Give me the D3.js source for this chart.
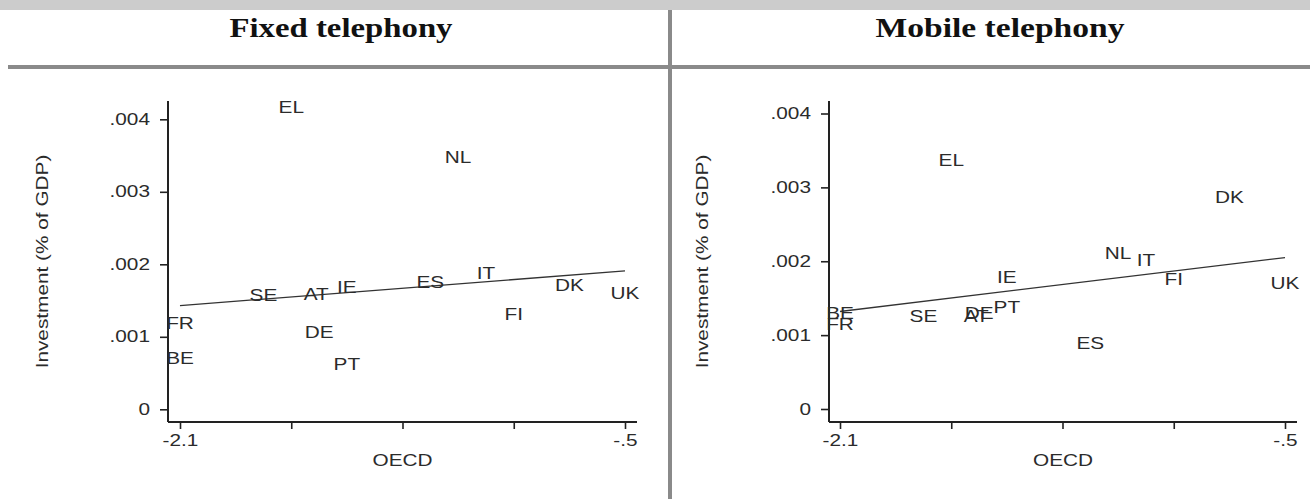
<!DOCTYPE html>
<html>
<head>
	<title>Investment vs OECD indicator</title>
	<script src="https://cdn.jsdelivr.net/npm/d3@7/dist/d3.min.js"></script>
	<style>
		body { margin: 0; background: #fff; }
		svg { display: block; }
		.lab { font-family: "Liberation Sans", Arial, sans-serif; font-size: 16px; fill: #2b2b2b; }
		.ttl { font-family: "Liberation Serif", "Times New Roman", serif; font-size: 27px; font-weight: bold; fill: #111; }
		.tick line { stroke: #222; stroke-width: 1.6px; }
	</style>
</head>
<body>
	<svg id="chart" width="1310" height="499"></svg>

	<script type="text/javascript">
		// country codes, same order in every array
		var countries = ['EL', 'NL', 'SE', 'AT', 'IE', 'FR', 'BE', 'DE', 'PT', 'ES', 'IT', 'DK', 'UK', 'FI'];
		var oecd = [-1.70, -1.10, -1.80, -1.61, -1.50, -2.10, -2.10, -1.60, -1.50, -1.20, -1.00, -0.70, -0.50, -0.90];
		var fixedInv = [.00416, .00348, .00157, .00159, .00168, .00119, .00070, .00106, .00062, .00175, .00188, .00171, .00160, .00131];
		var mobileInv = [.00336, .00210, .00125, .00126, .00178, .00115, .00130, .00130, .00138, .00089, .00201, .00286, .00170, .00175];

		// fitted line, value at x = -2.1 and x = -.5
		var fitX = [-2.1, -0.5];
		var fixedFit = [.00143, .00191];
		var mobileFit = [.00132, .00205];

		var xTicks = [-2.1, -1.7, -1.3, -0.9, -0.5];
		var xTickLabels = ['-2.1', '', '', '', '-.5'];
		var yTicks = [0, .001, .002, .003, .004];
		var yTickLabels = ['0', '.001', '.002', '.003', '.004'];

		var panelTitles = ['Fixed telephony', 'Mobile telephony'];
		var xTitle = 'OECD';
		var yTitle = 'Investment (% of GDP)';

		var SX = 1.3; // the source glyphs are wide
		var svg = d3.select('#chart');

		// frame of the table
		svg.append('rect').attr('x', 0).attr('y', 0).attr('width', 1310).attr('height', 10).attr('fill', '#cccccc');
		svg.append('rect').attr('x', 8).attr('y', 65).attr('width', 1302).attr('height', 4).attr('fill', '#8a8a8a');
		svg.append('rect').attr('x', 668).attr('y', 10).attr('width', 4).attr('height', 489).attr('fill', '#8a8a8a');

		function wideText(g, x, y, txt, anchor, rot) {
			return g.append('text')
				.attr('class', 'lab')
				.attr('text-anchor', anchor || 'middle')
				.attr('dy', '.35em')
				.attr('transform', 'translate(' + x + ',' + y + ') rotate(' + (rot || 0) + ') scale(' + SX + ',1)')
				.text(txt);
		}

		function drawPanel(cfg, values, fit) {
			var g = svg.append('g');

			svg.append('text')
				.attr('class', 'ttl')
				.attr('x', cfg.titleX - cfg.titleW / 2)
				.attr('y', 37)
				.attr('textLength', cfg.titleW)
				.attr('lengthAdjust', 'spacingAndGlyphs')
				.text(cfg.title);

			var x = d3.scaleLinear().domain([-2.1, -0.5]).range([cfg.xa, cfg.xb]);
			var y = d3.scaleLinear().domain([0, .004]).range([cfg.y0, cfg.y4]);

			// axis lines
			g.append('line')
				.attr('x1', cfg.axisX).attr('x2', cfg.axisX)
				.attr('y1', cfg.top).attr('y2', cfg.bottom)
				.attr('stroke', '#222').attr('stroke-width', 2);
			g.append('line')
				.attr('x1', cfg.axisX).attr('x2', cfg.right)
				.attr('y1', cfg.bottom).attr('y2', cfg.bottom)
				.attr('stroke', '#222').attr('stroke-width', 2);

			var xAxis = g.append('g')
				.attr('transform', 'translate(0,' + cfg.bottom + ')')
				.call(d3.axisBottom(x).tickValues(xTicks).tickSize(7)
					.tickFormat((d, i) => xTickLabels[i]));
			xAxis.select('.domain').remove();
			xAxis.selectAll('text')
				.attr('class', 'lab')
				.attr('y', null).attr('dy', null)
				.attr('transform', 'translate(0,24) scale(' + SX + ',1)');

			var yAxis = g.append('g')
				.attr('transform', 'translate(' + cfg.axisX + ',0)')
				.call(d3.axisLeft(y).tickValues(yTicks).tickSize(8)
					.tickFormat((d, i) => yTickLabels[i]));
			yAxis.select('.domain').remove();
			yAxis.selectAll('text')
				.attr('class', 'lab')
				.attr('x', -18 / SX)
				.attr('transform', 'scale(' + SX + ',1)');

			// fitted line
			g.append('path')
				.datum(fitX.map((d, i) => [d, fit[i]]))
				.attr('fill', 'none')
				.attr('stroke', '#333')
				.attr('stroke-width', 1.3)
				.attr('d', d3.line().x(d => x(d[0])).y(d => y(d[1])));

			// country labels as markers
			countries.forEach((c, i) => {
				wideText(g, x(oecd[i]), y(values[i]), c);
			});

			wideText(g, (cfg.axisX + cfg.right) / 2, 460, xTitle);
			wideText(g, cfg.yTitleX, (cfg.top + cfg.bottom) / 2, yTitle, 'middle', -90);
		}

		drawPanel({ title: panelTitles[0], titleX: 341, titleW: 223,
			axisX: 168, right: 637, xa: 180, xb: 625,
			top: 101, bottom: 422, y0: 409.3, y4: 119.3, yTitleX: 42 }, fixedInv, fixedFit);

		drawPanel({ title: panelTitles[1], titleX: 1000, titleW: 249,
			axisX: 829, right: 1297, xa: 840, xb: 1285,
			top: 101, bottom: 422, y0: 409, y4: 113.5, yTitleX: 702 }, mobileInv, mobileFit);
	</script>
</body>
</html>
